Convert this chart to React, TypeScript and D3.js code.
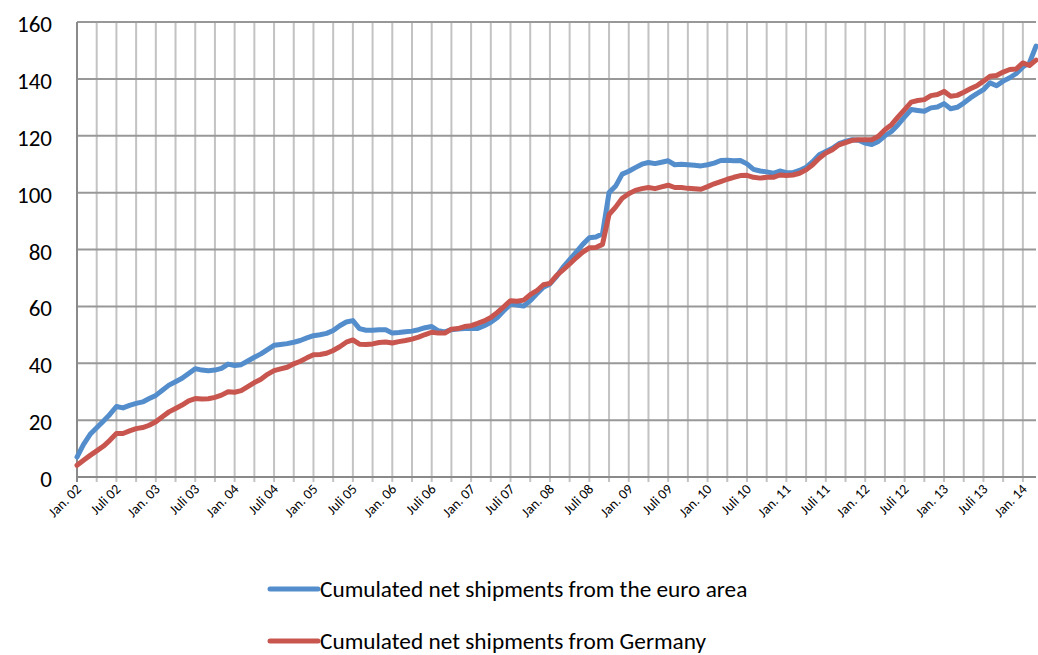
import React from "react";
import { useEffect, useRef } from "react";
import * as d3 from "d3";

// monthly, Jan 2002 .. Mar 2014
const euroArea = [
  7.0, 11.5, 15.0, 17.3, 19.6, 22.0, 24.8, 24.3, 25.2, 25.9, 26.4, 27.6,
  28.7, 30.5, 32.3, 33.5, 34.7, 36.4, 38.1, 37.6, 37.4, 37.6, 38.2, 39.7,
  39.2, 39.5, 40.8, 42.1, 43.3, 44.8, 46.3, 46.6, 46.9, 47.4, 48.0, 48.9,
  49.7, 50.0, 50.5, 51.5, 53.2, 54.5, 55.0, 52.2, 51.6, 51.6, 51.8, 51.8,
  50.6, 50.8, 51.1, 51.3, 51.8, 52.5, 52.9, 51.4, 51.0, 51.8, 52.0, 52.2,
  52.2, 52.2, 53.2, 54.4, 56.1, 58.5, 60.8, 60.5, 60.1, 62.0, 64.4, 66.7,
  67.9, 70.5, 73.8, 76.4, 79.1, 81.8, 84.1, 84.4, 85.5, 100.0, 102.3, 106.5,
  107.5, 108.8, 110.0, 110.6, 110.2, 110.7, 111.2, 109.8, 110.0, 109.8, 109.6, 109.4,
  109.8, 110.4, 111.3, 111.4, 111.2, 111.3, 110.1, 108.2, 107.6, 107.3, 106.8, 107.6,
  107.0, 107.0, 107.8, 108.9, 110.9, 113.3, 114.5, 115.6, 117.2, 118.0, 118.6, 118.4,
  117.4, 116.9, 118.0, 120.0, 121.5, 123.9, 126.6, 129.2, 128.9, 128.6, 129.8, 130.1,
  131.3, 129.5, 130.0, 131.5, 133.3, 134.8, 136.2, 138.6, 137.6, 139.2, 140.4, 141.9,
  144.2, 145.6, 151.5,
];

const germany = [
  4.1, 5.9, 7.6, 9.2, 10.8, 12.9, 15.3, 15.3, 16.2, 17.0, 17.4, 18.2,
  19.4, 21.2, 22.9, 24.1, 25.3, 26.8, 27.6, 27.4, 27.5, 28.0, 28.8, 30.0,
  29.8, 30.4, 31.8, 33.2, 34.4, 36.1, 37.4, 38.0, 38.6, 39.8, 40.7, 41.9,
  43.0, 43.1, 43.5, 44.5, 45.8, 47.4, 48.2, 46.7, 46.6, 46.8, 47.3, 47.5,
  47.1, 47.6, 48.0, 48.5, 49.2, 50.1, 50.9, 50.6, 50.6, 52.0, 52.2, 52.9,
  53.2, 54.0, 54.9, 56.1, 57.9, 59.9, 62.0, 61.8, 62.2, 64.1, 65.5, 67.6,
  68.1, 70.8, 72.8, 74.9, 77.1, 79.1, 80.6, 80.7, 81.8, 92.3, 94.9, 98.0,
  99.6, 100.8, 101.4, 101.8, 101.4, 102.0, 102.6, 101.8, 101.8, 101.5, 101.4, 101.2,
  102.1, 103.1, 103.9, 104.7, 105.4, 106.0, 106.1, 105.4, 105.1, 105.4, 105.4, 106.2,
  106.0, 106.2, 106.8, 108.0, 109.8, 112.1, 113.9, 115.1, 116.8, 117.6, 118.4, 118.6,
  118.6, 118.6, 119.8, 122.1, 123.9, 126.6, 129.2, 131.8, 132.4, 132.7, 134.1, 134.5,
  135.6, 133.9, 134.2, 135.3, 136.5, 137.6, 139.2, 140.9, 141.2, 142.4, 143.3, 143.5,
  145.6, 144.7, 146.6,
];

// one label every 6 months, starting Jan. 02
const tickLabels = [
  "Jan. 02", "Juli 02", "Jan. 03", "Juli 03", "Jan. 04", "Juli 04", "Jan. 05",
  "Juli 05", "Jan. 06", "Juli 06", "Jan. 07", "Juli 07", "Jan. 08", "Juli 08",
  "Jan. 09", "Juli 09", "Jan. 10", "Juli 10", "Jan. 11", "Juli 11", "Jan. 12",
  "Juli 12", "Jan. 13", "Juli 13", "Jan. 14",
];

const yTicks = [0, 20, 40, 60, 80, 100, 120, 140, 160];

const seriesNames = [
  "Cumulated net shipments from the euro area",
  "Cumulated net shipments from Germany",
];

const colors = ["#538DCC", "#C8564F"];

const App = () => {
  const svgRef = useRef<SVGSVGElement>(null);

  useEffect(() => {
    const width = 1038;
    const height = 655;
    const margin = { top: 22, left: 77, right: 2, bottom: 178 };
    const font = "Calibri, Carlito, Lato, sans-serif";

    const svg = d3.select(svgRef.current).attr("width", width).attr("height", height);
    svg.selectAll("*").remove();

    const n = euroArea.length;
    const x = d3.scaleLinear().domain([0, n - 1]).range([margin.left, width - margin.right]);
    const y = d3.scaleLinear().domain([0, 160]).range([height - margin.bottom, margin.top]);

    // vertical grid every quarter
    const quarters = d3.range(0, n, 3);
    svg.append("g")
      .selectAll("line")
      .data(quarters.filter(q => q > 0))
      .join("line")
      .attr("x1", d => x(d)).attr("x2", d => x(d))
      .attr("y1", y(160)).attr("y2", y(0) + 5)
      .attr("stroke", "#C3C3C3")
      .attr("stroke-width", 2);

    // horizontal grid
    svg.append("g")
      .selectAll("line")
      .data(yTicks.filter(t => t > 0))
      .join("line")
      .attr("x1", margin.left).attr("x2", width - margin.right)
      .attr("y1", d => y(d)).attr("y2", d => y(d))
      .attr("stroke", "#989898")
      .attr("stroke-width", 2);

    // axes
    svg.append("line")
      .attr("x1", margin.left).attr("x2", margin.left)
      .attr("y1", y(160)).attr("y2", y(0) + 5)
      .attr("stroke", "#8A8A8A").attr("stroke-width", 2);
    svg.append("line")
      .attr("x1", margin.left).attr("x2", width - margin.right)
      .attr("y1", y(0)).attr("y2", y(0))
      .attr("stroke", "#8A8A8A").attr("stroke-width", 2);

    svg.append("g")
      .selectAll("text")
      .data(yTicks)
      .join("text")
      .attr("x", 52)
      .attr("y", d => y(d) + 2)
      .attr("dy", "0.35em")
      .attr("text-anchor", "end")
      .attr("font-family", font)
      .attr("font-size", 23)
      .attr("fill", "#000")
      .text(d => d);

    svg.append("g")
      .selectAll("text")
      .data(tickLabels)
      .join("text")
      .attr("text-anchor", "end")
      .attr("transform", (d, i) => `translate(${x(i * 6) + 5},${y(0) + 13}) rotate(-45)`)
      .attr("font-family", font)
      .attr("font-size", 14)
      .attr("fill", "#000")
      .text(d => d);

    const line = d3.line<number>()
      .x((d, i) => x(i))
      .y(d => y(d));

    [euroArea, germany].forEach((s, k) => {
      svg.append("path")
        .datum(s)
        .attr("d", line)
        .attr("fill", "none")
        .attr("stroke", colors[k])
        .attr("stroke-width", 5)
        .attr("stroke-linejoin", "round")
        .attr("stroke-linecap", "round");
    });

    // legend
    const legend = svg.append("g")
      .selectAll("g")
      .data(seriesNames)
      .join("g")
      .attr("transform", (d, i) => `translate(270,${589 + i * 52})`);
    legend.append("line")
      .attr("x1", 0).attr("x2", 48)
      .attr("stroke", (d, i) => colors[i])
      .attr("stroke-width", 5)
      .attr("stroke-linecap", "round");
    legend.append("text")
      .attr("x", 50)
      .attr("dy", "0.35em")
      .attr("font-family", font)
      .attr("font-size", 23.3)
      .attr("fill", "#000")
      .text(d => d);
  }, []);

  return <svg ref={svgRef} style={{ position: "absolute", left: 0, top: 0 }} />;
};

export default App;
